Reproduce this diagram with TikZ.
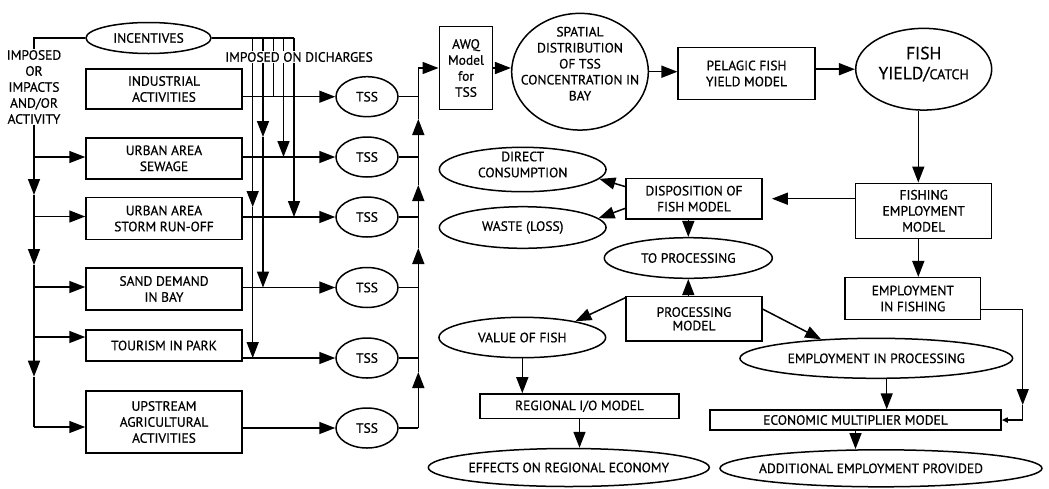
\documentclass[tikz,border=0pt]{standalone}
\usepackage{fontspec}
\setmainfont{PT Sans}[FakeBold=0.6]
\usetikzlibrary{arrows.meta,shapes.geometric,calc}
\begin{document}
\begin{tikzpicture}[x=1pt,y=-1pt,line width=1.5pt,
  >={Triangle[length=16pt,width=12pt]},
  every node/.style={font=\fontsize{13.5}{16}\selectfont,align=center,inner sep=0pt},
  box/.style={draw,rectangle},
  oval/.style={draw,ellipse},
  smalltip/.style={-{Triangle[length=6pt,width=5pt]}}]
\useasboundingbox (0,0) rectangle (1049,488);

% ---- sources of discharge ----
\node[oval,minimum width=125,minimum height=31] (inc) at (148.5,38) {INCENTIVES};
\node (imp) at (34,87) {IMPOSED\\OR\\IMPACTS\\AND/OR\\ACTIVITY};

\node[box,minimum width=156,minimum height=40]   (ind) at (164,89)    {INDUSTRIAL\\ACTIVITIES};
\node[box,minimum width=156,minimum height=41]   (sew) at (164,158.3) {URBAN AREA\\SEWAGE};
\node[box,minimum width=156,minimum height=41.6] (sto) at (164,218.5) {URBAN AREA\\STORM RUN-OFF};
\node[box,minimum width=156,minimum height=42]   (san) at (164,289)   {SAND DEMAND\\IN BAY};
\node[box,minimum width=156,minimum height=31]   (tou) at (164,345.5) {TOURISM IN PARK};
\node[box,minimum width=156,minimum height=62]   (ups) at (164,422)   {UPSTREAM\\AGRICULTURAL\\ACTIVITIES};

\node[oval,minimum width=62,minimum height=40] (t1) at (367,96.7)  {TSS};
\node[oval,minimum width=62,minimum height=40] (t2) at (367,157)   {TSS};
\node[oval,minimum width=62,minimum height=40] (t3) at (367,217)   {TSS};
\node[oval,minimum width=62,minimum height=40] (t4) at (367,287.5) {TSS};
\node[oval,minimum width=62,minimum height=40] (t5) at (367,358)   {TSS};
\node[oval,minimum width=62,minimum height=40] (t6) at (367,428)   {TSS};

% ---- water quality and fish chain ----
\node[box,minimum width=53.4,minimum height=82.6] (awq) at (466,68) {AWQ\\Model\\for\\TSS};
\node[oval,minimum width=136.6,minimum height=116.7,
  label={[yshift=8pt]center:{SPATIAL\\DISTRIBUTION\\OF TSS\\CONCENTRATION IN\\BAY}}] (spa) at (580,71.7) {};
\node[box,minimum width=136.6,minimum height=51.6] (pel) at (746.5,73.5) {PELAGIC FISH\\YIELD MODEL};
\node[oval,minimum width=136,minimum height=81.7,
  label={[font=\fontsize{17.5}{20}\selectfont,yshift=5pt]center:{FISH\\YIELD/{\fontsize{14}{20}\selectfont CATCH}}}] (fish) at (923.7,69.2) {};
\node[box,minimum width=136,minimum height=55] (fem) at (923.7,210.8) {FISHING\\EMPLOYMENT\\MODEL};
\node[box,minimum width=136.3,minimum height=40.7] (dsp) at (694,198.7) {DISPOSITION OF\\FISH MODEL};
\node[oval,minimum width=166.7,minimum height=44.4,
  label={[yshift=5pt]center:{DIRECT\\CONSUMPTION}}] (dc) at (522.7,169.5) {};
\node[oval,minimum width=166.7,minimum height=41.6,label={center:{WASTE (LOSS)}}] (wst) at (522.7,227.5) {};
\node[oval,minimum width=168,minimum height=40.6,label={center:{TO PROCESSING}}] (tp) at (688.3,258) {};
\node[box,minimum width=136,minimum height=44.3,font=\fontsize{13.5}{13.5}\selectfont] (pm) at (694,318.8) {PROCESSING\\MODEL};
\node[oval,minimum width=166.7,minimum height=40.4,label={center:{VALUE OF FISH}}] (vof) at (522.3,337.5) {};
\node[box,minimum width=135.7,minimum height=41.6] (eif) at (912.8,298.5) {EMPLOYMENT\\IN FISHING};
\node[oval,minimum width=272.7,minimum height=40,label={center:{EMPLOYMENT IN PROCESSING}}] (eip) at (876.3,358.3) {};
\node[box,minimum width=291,minimum height=20] (emm) at (855.5,420) {ECONOMIC MULTIPLIER MODEL};
\node[oval,minimum width=322,minimum height=37,
  label={[xshift=-10pt]center:{ADDITIONAL EMPLOYMENT PROVIDED}}] (aep) at (881,468.3) {};
\node[box,minimum width=199,minimum height=24.7] (rio) at (579.5,406.3) {REGIONAL I/O MODEL};
\node[oval,minimum width=281,minimum height=38,label={center:{EFFECTS ON REGIONAL ECONOMY}}] (eff) at (568.8,467.5) {};

% ---- incentive lines imposed on discharges ----
\coordinate (k1) at (252.7,38);
\coordinate (k2) at (263,38);
\coordinate (k3) at (273.3,38);
\coordinate (k4) at (283.5,38);
\coordinate (k5) at (294,38);
\coordinate (k2m) at (263,137);
\coordinate (k1m) at (252.7,207);
\draw (inc.west) -| (imp.north);
\draw (inc.east) -- (k5);
\draw (k3) -- (k3 |- t1.west);
\draw[->] (k4) -- (k4 |- t2.west);
\draw[->] (k5) -- (k5 |- t3.west);
\draw[->] (k2) -- (k2m);
\draw[->] (k2m) -- (k2 |- t4.west);
\draw[->] (k1) -- (k1m);
\draw[->] (k1m) -- (k1 |- t5.west);

% ---- activity bus on the left ----
\coordinate (L1) at (34,195);
\coordinate (L2) at (34,265);
\coordinate (L3) at (34,376.7);
\coordinate (L4) at (34,427);
\coordinate (b2) at (34,157);
\coordinate (b3) at (34,216.5);
\coordinate (b4) at (34,287);
\coordinate (b5) at (34,337);
\draw[->] (imp.south) -- (L1);
\draw[->] (L1) -- (L2);
\draw[->] (L2) -- (L3);
\draw (L3) -- (L4);
\draw[->] (b2) -- (b2 -| sew.west);
\draw[->] (b3) -- (b3 -| sto.west);
\draw[->] (b4) -- (b4 -| san.west);
\draw[->] (b5) -- (b5 -| tou.west);
\draw[->] (L4) -- (L4 -| ups.west);

% ---- activities to TSS loads ----
\draw[->] (t1.west -| ind.east) -- (t1.west);
\draw[->] (t2.west -| sew.east) -- (t2.west);
\draw[->] (t3.west -| sto.east) -- (t3.west);
\draw[->] (t4.west -| san.east) -- (t4.west);
\draw[->] (t5.west -| tou.east) -- (t5.west);
\draw[->] (t6.west -| ups.east) -- (t6.west);

% ---- TSS collector into the AWQ model ----
\coordinate (R0) at (418.3,68);
\coordinate (Rm1) at (418.3,372);
\coordinate (Rm2) at (418.3,248);
\coordinate (Rm3) at (418.3,185);
\coordinate (Rm4) at (418.3,119);
\foreach \t in {t1,t2,t3,t4,t5,t6} \draw (\t.east) -- (\t.east -| R0);
\draw[->] (t6.east -| R0) -- (Rm1);
\draw[->] (Rm1) -- (Rm2);
\draw[->] (Rm2) -- (Rm3);
\draw[->] (Rm3) -- (Rm4);
\draw[->] (Rm4) |- (awq.west);

% ---- fish chain connectors ----
\coordinate (vx) at (918.3,0);
\coordinate (ex) at (886.7,0);
\coordinate (rr) at (1022.7,309.3);
\coordinate (rrm) at (1022.7,405);
\draw[->] (awq.east) -- (awq.east -| spa.west);
\draw[->] (spa.east) -- (spa.east -| pel.west);
\draw[->] (fish.west -| pel.east) -- (fish.west);
\draw[->] (fish.south -| vx) -- (fem.north -| vx);
\draw[->,shorten >=9pt] (dsp.east -| fem.west) -- (dsp.east);
\draw[->] (dsp.170) -- (dc.-7);
\draw[->] (dsp.188) -- (wst.7);
\draw[->] (dsp.south -| tp.north) -- (tp.north);
\draw[->] (pm.north -| tp.south) -- (tp.south);
\draw[->] (pm.163) -- (vof.17);
\draw[->] (pm.8) -- (eip.161);
\draw[->] (fem.south -| vx) -- (eif.north -| vx);
\draw (eif.east |- rr) -- (rr);
\draw[->] (rr) -- (rrm);
\draw[smalltip] (rrm) |- (emm.east);
\draw[->] (eip.south -| ex) -- (emm.north -| ex);
\draw[->] (emm.south) -- (emm.south |- aep.north);
\draw[->] (vof.south) -- (vof.south |- rio.north);
\draw[->] (rio.south) -- (rio.south |- eff.north);

% ---- label laid over the incentive lines ----
\node[fill=white,inner sep=1.5pt] (dis) at (299,57) {IMPOSED ON DICHARGES};
\end{tikzpicture}
\end{document}
